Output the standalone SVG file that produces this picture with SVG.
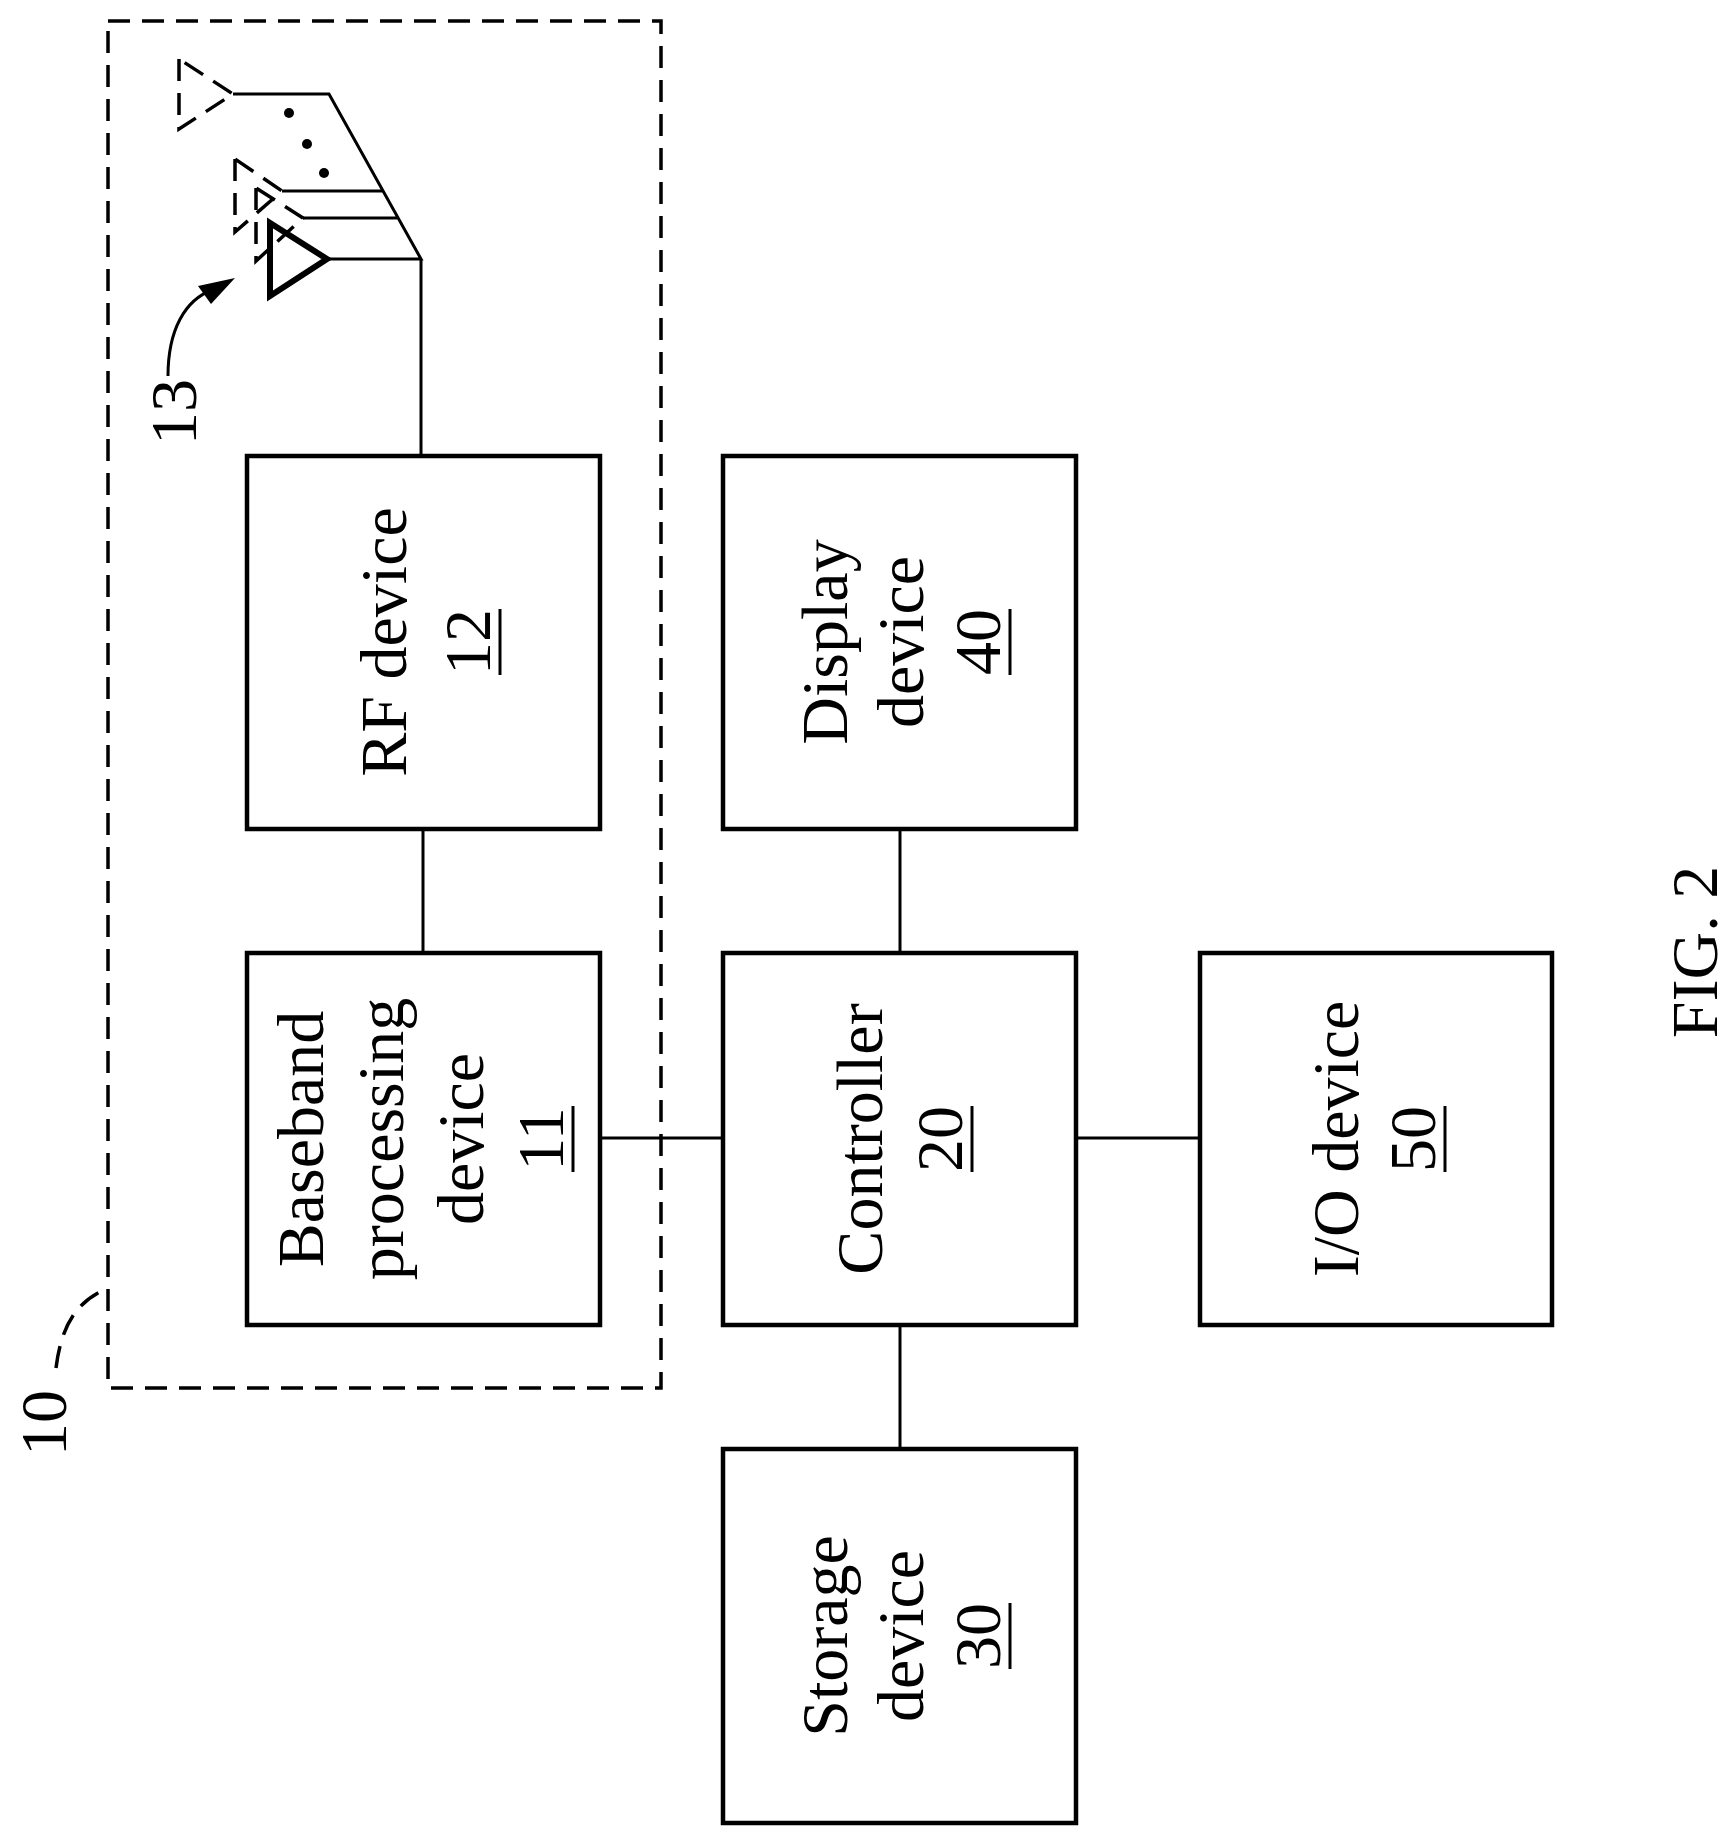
<svg xmlns="http://www.w3.org/2000/svg" width="1729" height="1835" viewBox="0 0 1729 1835">
<style>
.box{fill:none;stroke:#000;stroke-width:4.5}
.ln{fill:none;stroke:#000;stroke-width:3}
.dash{fill:none;stroke:#000;stroke-width:3.5;stroke-dasharray:22 12}
text{font-family:"Liberation Serif","Times New Roman",serif;font-size:66px;text-anchor:middle;fill:#000}
.ul{stroke:#000;stroke-width:3}
</style>
<rect width="1729" height="1835" fill="#fff"/>
<g id="group10">
<rect class="dash" x="108" y="21" width="553" height="1367"/>
<path class="dash" d="M56,1368 C62,1320 80,1300 108,1288" stroke-dasharray="16 10"/>
<text transform="translate(66,1423) rotate(-90)" font-size="60">10</text>
</g>
<g id="antenna13">
<polygon points="270,223 270,296 327,259" fill="none" stroke="#000" stroke-width="6"/>
<polygon class="dash" points="179,59 179,129 233,94" stroke-dasharray="16 10"/>
<polygon class="dash" points="235,159 235,232 282,191" stroke-dasharray="16 10"/>
<polygon class="dash" points="256,188 256,261 303,218" stroke-dasharray="16 10"/>
<path class="ln" d="M327,259 H421 L329,94 H233 M282,191 H383 M303,218 H398 M421,259 V456"/>
<circle cx="289" cy="113" r="5"/><circle cx="307" cy="144" r="5"/><circle cx="324" cy="173" r="5"/>
<path class="ln" d="M168,376 C168,330 185,300 212,290"/>
<polygon points="235,278 198,286 211,304"/>
<text transform="translate(196,412) rotate(-90)" font-size="60">13</text>
</g>
<g id="connectors">
<path class="ln" d="M423,829 V953 M900,829 V953 M600,1138 H723 M1076,1138 H1200 M900,1325 V1449"/>
</g>
<g id="rf12">
<rect class="box" x="247" y="456" width="353" height="373"/>
<g transform="translate(423,642) rotate(-90)"><text y="-17">RF device</text><text y="67">12</text><line class="ul" x1="-33" x2="33" y1="77" y2="77"/></g>
</g>
<g id="bb11">
<rect class="box" x="247" y="953" width="353" height="372"/>
<g transform="translate(423,1139) rotate(-90)"><text y="-100">Baseband</text><text y="-20">processing</text><text y="60">device</text><text y="140">11</text><line class="ul" x1="-33" x2="33" y1="150" y2="150"/></g>
</g>
<g id="display40">
<rect class="box" x="723" y="456" width="353" height="373"/>
<g transform="translate(900,642) rotate(-90)"><text y="-53">Display</text><text y="23">device</text><text y="100">40</text><line class="ul" x1="-33" x2="33" y1="110" y2="110"/></g>
</g>
<g id="controller20">
<rect class="box" x="723" y="953" width="353" height="372"/>
<g transform="translate(900,1139) rotate(-90)"><text y="-18">Controller</text><text y="62">20</text><line class="ul" x1="-33" x2="33" y1="72" y2="72"/></g>
</g>
<g id="io50">
<rect class="box" x="1200" y="953" width="352" height="372"/>
<g transform="translate(1376,1139) rotate(-90)"><text y="-18">I/O device</text><text y="59">50</text><line class="ul" x1="-33" x2="33" y1="69" y2="69"/></g>
</g>
<g id="storage30">
<rect class="box" x="723" y="1449" width="353" height="374"/>
<g transform="translate(900,1636) rotate(-90)"><text y="-53">Storage</text><text y="23">device</text><text y="100">30</text><line class="ul" x1="-33" x2="33" y1="110" y2="110"/></g>
</g>
<text transform="translate(1717,952) rotate(-90)" font-size="108">FIG. 2</text>
</svg>
